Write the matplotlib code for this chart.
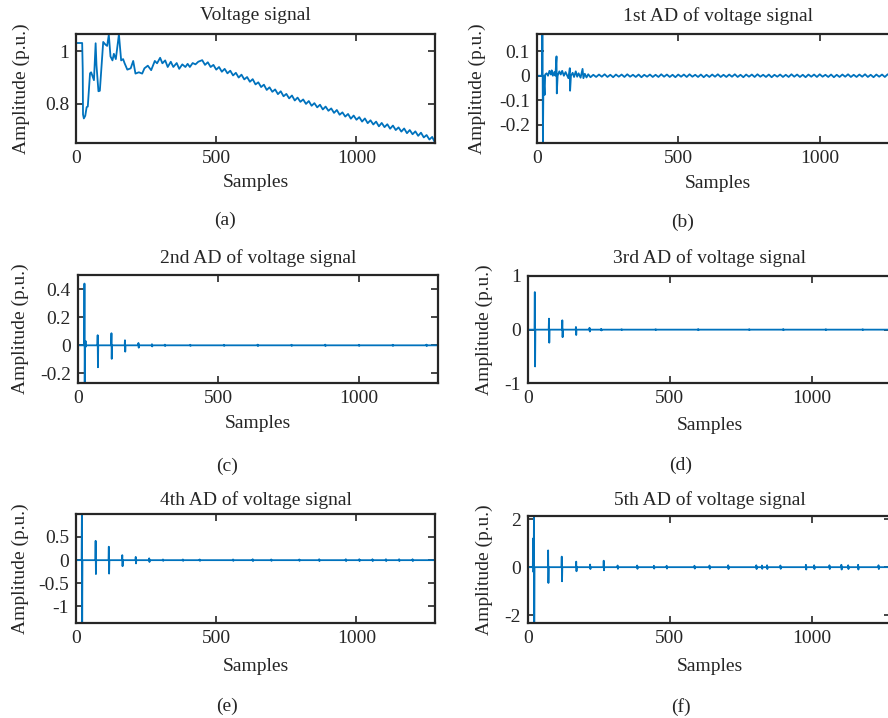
import numpy as np
import matplotlib
matplotlib.use("Agg")
import matplotlib.pyplot as plt

plt.rcParams['font.family'] = ['Liberation Serif', 'DejaVu Serif']
plt.rcParams['font.size'] = 14

W, H = 888, 718
BLUE = '#0072BD'
INK = '#262626'
N = 1280

titles = ['Voltage signal', '1st AD of voltage signal', '2nd AD of voltage signal',
          '3rd AD of voltage signal', '4th AD of voltage signal', '5th AD of voltage signal']
letters = ['(a)', '(b)', '(c)', '(d)', '(e)', '(f)']
x_ticks = [0, 500, 1000]

# (a) voltage signal: early transient read point by point
a_early_x = [0, 22, 24, 25, 28, 33, 38, 42, 50, 54, 64, 70, 73, 80, 85, 97, 105, 111, 117,
             123, 130, 135, 142, 153, 161, 168, 173, 183, 195, 204, 212, 224, 236, 244,
             256, 268, 281, 289, 300, 308, 318, 327, 338, 347, 359, 368, 379, 390, 398,
             406, 416, 426, 436]
a_early_y = [1.031, 1.031, 0.93, 0.76, 0.745, 0.755, 0.788, 0.79, 0.916, 0.92, 0.89, 1.03,
             0.947, 0.848, 0.85, 1.035, 1.025, 1.02, 1.062, 0.98, 0.965, 0.99, 0.97, 1.064,
             0.965, 0.97, 0.955, 0.93, 0.935, 0.963, 0.915, 0.92, 0.915, 0.935, 0.945,
             0.928, 0.963, 0.954, 0.975, 0.954, 0.965, 0.94, 0.96, 0.94, 0.955, 0.933,
             0.95, 0.94, 0.952, 0.94, 0.955, 0.95, 0.96]
# (a) slow decay with ripple, one value every 10 samples from 450 to 1280
a_tail_y = [0.966, 0.948, 0.958, 0.940, 0.948, 0.930, 0.940, 0.922, 0.933, 0.916,
            0.926, 0.908, 0.918, 0.900, 0.911, 0.893, 0.902, 0.884, 0.894, 0.874,
            0.882, 0.864, 0.873, 0.853, 0.863, 0.846, 0.855, 0.837, 0.848, 0.829,
            0.838, 0.821, 0.832, 0.813, 0.824, 0.808, 0.817, 0.800, 0.811, 0.793,
            0.803, 0.787, 0.797, 0.779, 0.790, 0.774, 0.783, 0.766, 0.777, 0.759,
            0.768, 0.752, 0.762, 0.744, 0.756, 0.740, 0.750, 0.733, 0.745, 0.727,
            0.738, 0.722, 0.733, 0.715, 0.728, 0.712, 0.723, 0.706, 0.718, 0.701,
            0.711, 0.695, 0.707, 0.689, 0.701, 0.685, 0.696, 0.679, 0.691, 0.673,
            0.682, 0.665, 0.675, 0.653]

# (b) 1st AD: early part then small ripple every 10 samples from 210
b_early_x = [0, 19, 20, 21, 22, 24, 28, 30, 35, 40, 45, 50, 53, 57, 62, 66, 70, 71, 74, 80,
             85, 90, 96, 102, 108, 112, 117, 118, 121, 127, 132, 138, 143, 148, 155, 162,
             165, 170, 176, 182, 190, 200]
b_early_y = [0, 0, 0.169, 0.02, -0.273, 0, -0.078, 0.005, 0.01, 0.0, 0.02, 0.005, 0.022,
             0.0, 0.015, 0.0, 0.079, -0.072, 0.0, 0.018, 0.005, 0.02, 0.0, 0.015, 0.0,
             -0.01, 0.031, -0.061, 0.0, 0.012, -0.005, 0.018, -0.004, 0.01, -0.008, 0.028,
             -0.01, 0.008, -0.007, 0.006, -0.006, 0.004]
b_tail_y = [-0.005, 0.005, -0.004, 0.006, -0.005, 0.004, -0.006, 0.005, -0.004, 0.005,
            -0.005, 0.006, -0.004, 0.004, -0.005, 0.005, -0.006, 0.004, -0.004, 0.005,
            -0.005, 0.004, -0.005, 0.006, -0.004, 0.005, -0.005, 0.004, -0.006, 0.005,
            -0.004, 0.005, -0.005, 0.006, -0.004, 0.004, -0.005, 0.005, -0.006, 0.004,
            -0.005, 0.005, -0.004, 0.006, -0.005, 0.004, -0.005, 0.005, -0.004, 0.006,
            -0.005, 0.004, -0.006, 0.005, -0.004, 0.005, -0.005, 0.006, -0.004, 0.004,
            -0.005, 0.005, -0.006, 0.004, -0.004, 0.005, -0.005, 0.004, -0.005, 0.006,
            -0.004, 0.005, -0.005, 0.004, -0.006, 0.005, -0.004, 0.005, -0.005, 0.006,
            -0.004, 0.004, -0.005, 0.005, -0.006, 0.004, -0.005, 0.005, -0.004, 0.006,
            -0.005, 0.004, -0.005, 0.005, -0.004, 0.006, -0.005, 0.004, -0.006, 0.005,
            -0.004, 0.005, -0.005, 0.006, -0.004, 0.004, -0.005, 0.005]

# (c)-(f): spikes as (sample, positive peak, negative peak)
c_pos = [24, 28, 71, 120, 168, 216, 264, 310, 400, 520, 640, 760, 880, 1000, 1120, 1240]
c_up = [0.439, 0.031, 0.072, 0.086, 0.036, 0.017, 0.008, 0.005, 0.004, 0.004, 0.005,
        0.004, 0.005, 0.004, 0.004, 0.005]
c_dn = [-0.27, -0.01, -0.156, -0.096, -0.045, -0.017, -0.008, -0.005, -0.004, -0.004,
        -0.005, -0.004, -0.005, -0.004, -0.004, -0.005]

d_pos = [24, 74, 121, 169, 217, 258, 330, 450, 600, 780, 900, 1050, 1180]
d_up = [0.70, 0.205, 0.174, 0.05, 0.035, 0.015, 0.008, 0.008, 0.01, 0.008, 0.01, 0.008, 0.008]
d_dn = [-0.686, -0.243, -0.14, -0.10, -0.035, -0.015, -0.008, -0.008, -0.01, -0.008, -0.01,
        -0.008, -0.008]

e_pos = [21, 70, 117, 165, 213, 261, 310, 381, 441, 560, 630, 696, 796, 867, 962, 1010,
         1057, 1105, 1152, 1200]
e_up = [0.99, 0.417, 0.29, 0.108, 0.07, 0.04, 0.015, 0.015, 0.015, 0.015, 0.02, 0.015,
        0.015, 0.02, 0.02, 0.02, 0.02, 0.02, 0.02, 0.02]
e_dn = [-1.35, -0.30, -0.29, -0.13, -0.07, -0.04, -0.015, -0.015, -0.015, -0.015, -0.02,
        -0.015, -0.015, -0.02, -0.02, -0.02, -0.02, -0.02, -0.02, -0.02]

f_pos = [18, 21, 71, 119, 170, 219, 267, 316, 385, 444, 489, 587, 640, 706, 805, 825, 843,
         890, 980, 1009, 1063, 1105, 1129, 1164, 1236]
f_up = [1.2, 2.15, 0.70, 0.44, 0.23, 0.11, 0.27, 0.07, 0.07, 0.06, 0.06, 0.06, 0.07, 0.08,
        0.08, 0.07, 0.08, 0.07, 0.1, 0.08, 0.08, 0.1, 0.08, 0.1, 0.08]
f_dn = [-0.2, -2.32, -0.66, -0.59, -0.17, -0.08, -0.13, -0.07, -0.07, -0.06, -0.06, -0.06,
        -0.07, -0.08, -0.08, -0.07, -0.08, -0.07, -0.1, -0.08, -0.08, -0.1, -0.08, -0.1,
        -0.08]

ylims = [(min(a_early_y + a_tail_y), max(a_early_y + a_tail_y)), (-0.273, 0.169),
         (-0.27, 0.5), (-1, 1), (-1.35, 0.99), (-2.32, 2.15)]
y_ticks = [[0.8, 1], [-0.2, -0.1, 0, 0.1], [-0.2, 0, 0.2, 0.4], [-1, 0, 1],
           [-1, -0.5, 0, 0.5], [-2, 0, 2]]
y_labels = [['0.8', '1'], ['-0.2', '-0.1', '0', '0.1'], ['-0.2', '0', '0.2', '0.4'],
            ['-1', '0', '1'], ['-1', '-0.5', '0', '0.5'], ['-2', '0', '2']]


def spike_trace(pos, up, dn):
    xs, ys = [0], [0]
    for p, u, d in zip(pos, up, dn):
        xs += [p - 1, p, p + 1, p + 2]
        ys += [0, u, d, 0]
    xs.append(N)
    ys.append(0)
    return xs, ys


traces = [
    (a_early_x + list(np.arange(450, N + 1, 10)), a_early_y + a_tail_y),
    (b_early_x + list(np.arange(210, N + 1, 10)), b_early_y + b_tail_y),
    spike_trace(c_pos, c_up, c_dn),
    spike_trace(d_pos, d_up, d_dn),
    spike_trace(e_pos, e_up, e_dn),
    spike_trace(f_pos, f_up, f_dn),
]

# pixel layout: left, right, top, bottom of each axes box
boxes = [(76, 435, 34.3, 142.7), (536.7, 899, 34.3, 142.7),
         (77.7, 437.7, 275, 383.3), (528, 891, 276, 383.3),
         (76, 435, 514.3, 622.7), (528, 891, 515.7, 622.7)]
title_y = [15, 16, 258, 258, 500, 500]
xlabel_y = [182.7, 183.3, 423, 425, 666.7, 666.7]
ylabel_x = [21.7, 477.3, 20, 484, 20, 484]
letter_xy = [(225, 220), (683, 222), (226.7, 466.7), (681, 465), (226.7, 706.7), (681, 706.7)]

fig = plt.figure(figsize=(W / 100, H / 100), dpi=100)

for i in range(6):
    l, r, t, b = boxes[i]
    ax = fig.add_axes([l / W, 1 - b / H, (r - l) / W, (b - t) / H])
    xs, ys = traces[i]
    ax.plot(xs, ys, color=BLUE, lw=1.3)
    ax.set_xlim(0, N)
    ax.set_ylim(*ylims[i])
    ax.set_xticks(x_ticks)
    ax.set_xticklabels([str(v) for v in x_ticks])
    ax.set_yticks(y_ticks[i])
    ax.set_yticklabels(y_labels[i])
    ax.tick_params(direction='in', top=True, right=True, length=5, width=1.2,
                   labelsize=14, pad=5, colors=INK)
    for s in ax.spines.values():
        s.set_linewidth(1.6)
        s.set_color(INK)

    ax.set_xlabel('Samples', color=INK, fontsize=14)
    ax.xaxis.label.set_va('center')
    ax.xaxis.set_label_coords(0.5, (b - xlabel_y[i]) / (b - t))
    ax.set_ylabel('Amplitude (p.u.)', color=INK, fontsize=14)
    ax.yaxis.label.set_va('center')
    ax.yaxis.set_label_coords((ylabel_x[i] - l) / (r - l), 0.5)

    fig.text((l + r) / 2 / W, 1 - title_y[i] / H, titles[i], ha='center', va='center',
             color=INK, fontsize=14)
    lx, ly = letter_xy[i]
    fig.text(lx / W, 1 - ly / H, letters[i], ha='center', va='center', color=INK,
             fontsize=14)

fig.savefig('out.png', dpi=100)
